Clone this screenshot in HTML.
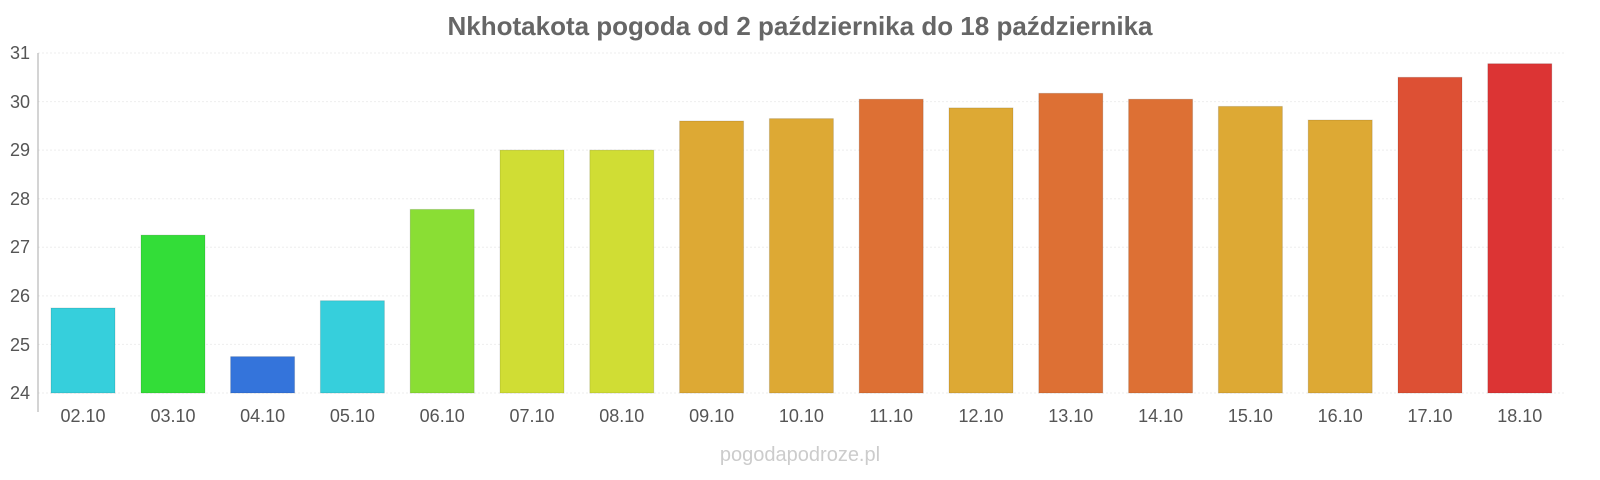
<!DOCTYPE html>
<html><head><meta charset="utf-8"><style>
html,body{margin:0;padding:0;background:#fff;}
svg{display:block;font-family:"Liberation Sans",sans-serif;}
</style></head><body>
<svg width="1600" height="480" viewBox="0 0 1600 480" xmlns="http://www.w3.org/2000/svg">
<text x="800" y="35" text-anchor="middle" font-size="26" font-weight="bold" fill="#666">Nkhotakota pogoda od 2 października do 18 października</text>
<g stroke="#eee" stroke-width="1" stroke-dasharray="2,2">
<line x1="38" x2="1565" y1="53" y2="53"/><line x1="38" x2="1565" y1="101.6" y2="101.6"/>
<line x1="38" x2="1565" y1="150.1" y2="150.1"/><line x1="38" x2="1565" y1="198.7" y2="198.7"/>
<line x1="38" x2="1565" y1="247.3" y2="247.3"/><line x1="38" x2="1565" y1="295.9" y2="295.9"/>
<line x1="38" x2="1565" y1="344.4" y2="344.4"/><line x1="38" x2="1565" y1="393" y2="393"/>
</g>
<line x1="38" x2="38" y1="53" y2="412" stroke="#aaa" stroke-width="1"/>
<g font-size="18" fill="#555" text-anchor="end">
<text x="30" y="59">31</text><text x="30" y="108">30</text><text x="30" y="156">29</text>
<text x="30" y="205">28</text><text x="30" y="253">27</text><text x="30" y="302">26</text>
<text x="30" y="351">25</text><text x="30" y="399">24</text>
</g>
<g stroke="rgba(0,0,0,0.12)" stroke-width="1">
<rect x="51" y="308" width="64" height="85" fill="#36cfdc"/>
<rect x="141" y="235.1" width="64" height="157.9" fill="#33dd38"/>
<rect x="230.6" y="356.6" width="64" height="36.4" fill="#3474db"/>
<rect x="320.4" y="300.7" width="64" height="92.3" fill="#36cfdc"/>
<rect x="410.2" y="209.4" width="64" height="183.6" fill="#8ade34"/>
<rect x="500" y="150.1" width="64" height="242.9" fill="#d0dd34"/>
<rect x="589.8" y="150.1" width="64" height="242.9" fill="#d0dd34"/>
<rect x="679.6" y="121" width="64" height="272" fill="#dda934"/>
<rect x="769.4" y="118.6" width="64" height="274.4" fill="#dda934"/>
<rect x="859.2" y="99.2" width="64" height="293.8" fill="#dd7034"/>
<rect x="949" y="107.9" width="64" height="285.1" fill="#dda934"/>
<rect x="1038.8" y="93.3" width="64" height="299.7" fill="#dd7034"/>
<rect x="1128.6" y="99.2" width="64" height="293.8" fill="#dd7034"/>
<rect x="1218.4" y="106.4" width="64" height="286.6" fill="#dda934"/>
<rect x="1308.2" y="120" width="64" height="273" fill="#dda934"/>
<rect x="1398" y="77.3" width="64" height="315.7" fill="#dd5034"/>
<rect x="1487.8" y="63.7" width="64" height="329.3" fill="#dc3434"/>
</g>
<g font-size="18" fill="#555" text-anchor="middle">
<text x="83" y="422">02.10</text><text x="173" y="422">03.10</text><text x="262.6" y="422">04.10</text>
<text x="352.4" y="422">05.10</text><text x="442.2" y="422">06.10</text><text x="532" y="422">07.10</text>
<text x="621.8" y="422">08.10</text><text x="711.6" y="422">09.10</text><text x="801.4" y="422">10.10</text>
<text x="891.2" y="422">11.10</text><text x="981" y="422">12.10</text><text x="1070.8" y="422">13.10</text>
<text x="1160.6" y="422">14.10</text><text x="1250.4" y="422">15.10</text><text x="1340.2" y="422">16.10</text>
<text x="1430" y="422">17.10</text><text x="1519.8" y="422">18.10</text>
</g>
<text x="800" y="461" text-anchor="middle" font-size="20" fill="#ccc">pogodapodroze.pl</text>
</svg>
</body></html>
